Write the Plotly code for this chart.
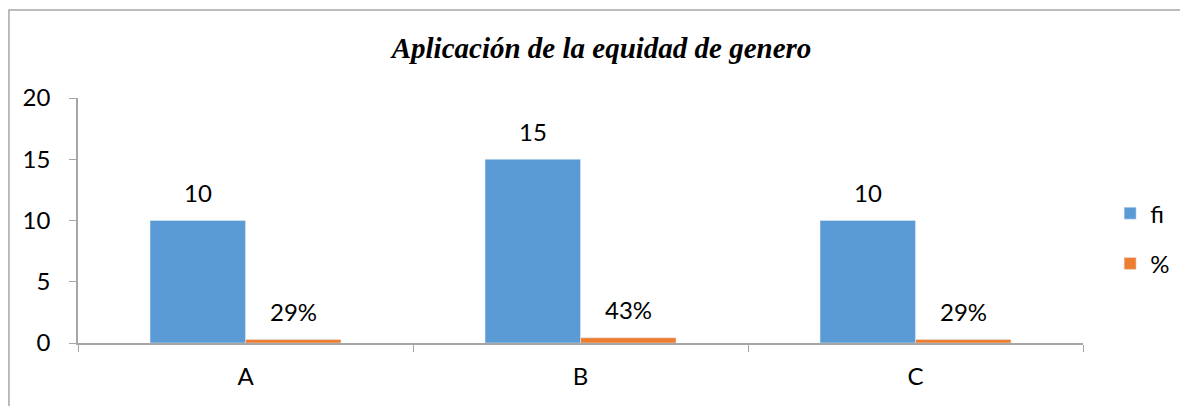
import plotly.graph_objects as go

categories = ["A", "B", "C"]
fi_values = [10, 15, 10]
pct_values = [0.29, 0.43, 0.29]
fi_labels = ["10", "15", "10"]
pct_labels = ["29%", "43%", "29%"]
y_ticks = [0, 5, 10, 15, 20]

blue = "#5B9BD5"
orange = "#ED7D31"
axis_grey = "#A6A6A6"
font_main = "Lato, 'Open Sans', sans-serif"

fig = go.Figure()
fig.add_trace(go.Bar(name="fi", x=categories, y=fi_values, marker_color=blue,
                     legendgroup="fi"))
fig.add_trace(go.Bar(name="%", x=categories, y=pct_values, marker_color=orange,
                     legendgroup="pct"))

# value labels sit a bit higher than plotly's "outside" text, so use annotations
for cat, v, lab in zip(categories, fi_values, fi_labels):
    fig.add_annotation(x=cat, y=v, text=lab, showarrow=False, xshift=-48,
                       yshift=28, font=dict(size=24, color="#000000", family=font_main))
for cat, v, lab in zip(categories, pct_values, pct_labels):
    fig.add_annotation(x=cat, y=v, text=lab, showarrow=False, xshift=48,
                       yshift=28, font=dict(size=24, color="#000000", family=font_main))

# outer chart border
fig.add_shape(type="rect", xref="paper", yref="paper",
              x0=-0.0687, x1=1.12, y0=-0.3, y1=1.359,
              line=dict(color=axis_grey, width=1.5), fillcolor="rgba(0,0,0,0)")

# page body has an 8px margin, so the figure is a bit smaller than the window
fig.update_layout(
    width=1180, height=398,
    margin=dict(l=70, r=105, t=90, b=63, autoexpand=False),
    paper_bgcolor="white", plot_bgcolor="white",
    barmode="group", bargap=0.43, bargroupgap=0,
    font=dict(family=font_main, size=24, color="#000000"),
    title=dict(text="<b><i>Aplicación de la equidad de genero</i></b>",
               x=0.503, xanchor="center", y=0.9, yanchor="middle",
               font=dict(family="'Liberation Serif', 'Times New Roman', serif",
                         size=29, color="#000000")),
    legend=dict(x=1.027, y=0.62, xanchor="left", yanchor="top",
                font=dict(size=24), tracegroupgap=16, itemwidth=30,
                bgcolor="rgba(0,0,0,0)"),
    showlegend=True,
)
fig.update_xaxes(showline=True, linecolor=axis_grey, linewidth=1.5,
                 ticks="outside", tickson="boundaries", ticklen=7,
                 tickcolor=axis_grey, ticklabelstandoff=11, showgrid=False,
                 fixedrange=True)
fig.update_yaxes(range=[0, 20], tickvals=y_ticks, showline=True,
                 linecolor=axis_grey, linewidth=1.5, ticks="outside",
                 ticklen=7, tickcolor=axis_grey, ticklabelstandoff=14,
                 showgrid=False, zeroline=False)

fig.write_html("out.html")
